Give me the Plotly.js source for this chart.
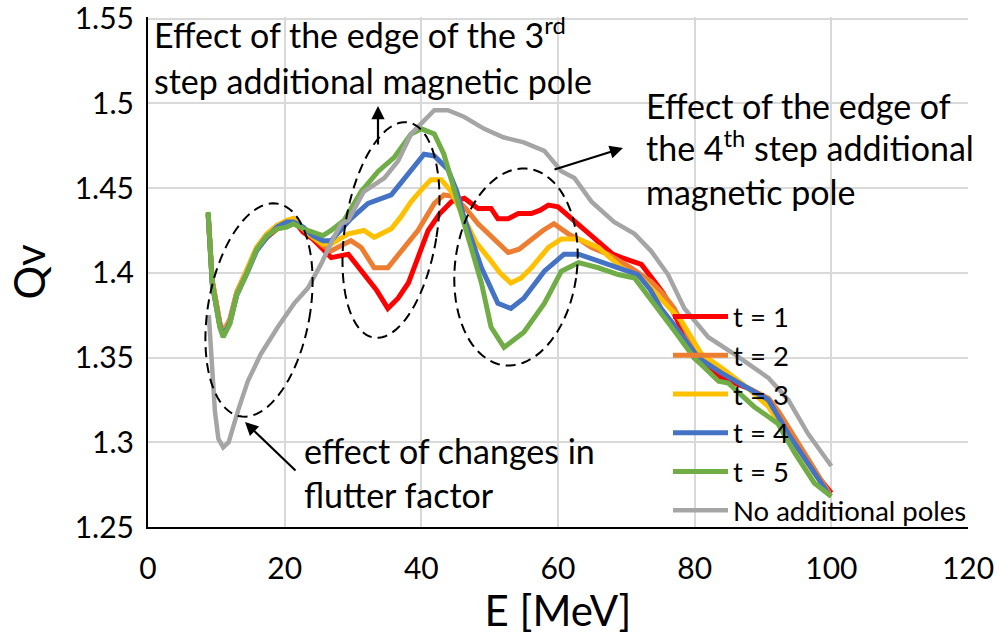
<!DOCTYPE html>
<html>
<head>
<meta charset="utf-8">
<script src="https://cdn.plot.ly/plotly-3.0.1.min.js"></script>
<style>html,body{margin:0;padding:0;background:#fff;}#chart{width:1000px;height:642px;}</style>
</head>
<body>
<div id="chart"></div>
<script>
// ---- data ----
const seriesNames = ["t = 1", "t = 2", "t = 3", "t = 4", "t = 5", "No additional poles"];

const e_t1 = [8.8, 9.4, 10.5, 11.0, 12.0, 13.0, 14.5, 15.9, 17.4, 18.9, 20.3, 21.3, 22.7, 24.1, 25.6, 26.8, 29.3, 31.6, 33.4, 35.1, 36.6, 38.1, 39.6, 41.0, 42.7, 44.4, 46.3, 48.3, 50.2, 51.2, 52.7, 54.2, 56.1, 57.4, 58.6, 60.0, 61.7, 63.4, 65.9, 68.0, 69.3, 70.7, 72.2, 74.1, 75.4, 76.6, 78.3, 79.9, 81.9, 83.9, 85.8, 87.8, 89.5, 91.2, 92.6, 94.1, 95.8, 97.5, 98.8, 100.0];
const q_t1 = [1.435, 1.395, 1.370, 1.364, 1.372, 1.388, 1.401, 1.414, 1.421, 1.426, 1.428, 1.431, 1.424, 1.420, 1.414, 1.409, 1.411, 1.399, 1.390, 1.379, 1.385, 1.394, 1.410, 1.425, 1.435, 1.442, 1.444, 1.438, 1.438, 1.432, 1.432, 1.435, 1.435, 1.437, 1.440, 1.439, 1.433, 1.427, 1.418, 1.411, 1.409, 1.407, 1.405, 1.395, 1.388, 1.379, 1.365, 1.350, 1.343, 1.338, 1.335, 1.332, 1.328, 1.323, 1.315, 1.305, 1.294, 1.282, 1.276, 1.270];

const e_t2 = [8.8, 9.4, 10.5, 11.0, 12.0, 13.0, 14.5, 15.9, 17.4, 18.9, 20.3, 21.3, 22.7, 24.1, 25.6, 26.8, 28.5, 29.7, 31.2, 33.1, 35.1, 37.0, 39.5, 41.9, 43.3, 44.8, 46.5, 48.3, 50.5, 52.7, 54.3, 56.1, 57.8, 59.4, 61.5, 63.4, 64.9, 67.3, 70.7, 73.6, 75.3, 77.0, 78.8, 80.5, 83.0, 85.4, 87.8, 90.8, 92.3, 93.7, 95.6, 97.5, 99.7];
const q_t2 = [1.435, 1.396, 1.371, 1.365, 1.373, 1.389, 1.402, 1.415, 1.423, 1.428, 1.430, 1.432, 1.426, 1.421, 1.416, 1.413, 1.417, 1.419, 1.415, 1.403, 1.403, 1.413, 1.425, 1.441, 1.446, 1.445, 1.438, 1.429, 1.420, 1.412, 1.414, 1.420, 1.425, 1.429, 1.423, 1.419, 1.415, 1.411, 1.403, 1.395, 1.388, 1.379, 1.365, 1.350, 1.344, 1.338, 1.332, 1.326, 1.318, 1.309, 1.297, 1.284, 1.270];

const e_t3 = [8.8, 9.4, 10.5, 11.0, 12.0, 13.0, 14.5, 15.9, 17.4, 18.9, 20.3, 21.3, 22.7, 24.1, 25.6, 26.8, 29.3, 31.6, 33.1, 35.6, 37.0, 38.5, 40.0, 41.4, 42.9, 44.4, 46.3, 48.0, 49.8, 51.5, 53.1, 54.6, 56.1, 58.6, 60.5, 63.0, 65.9, 69.3, 72.2, 75.1, 78.0, 79.5, 81.0, 83.9, 87.8, 90.8, 93.7, 95.6, 97.5, 99.7];
const q_t3 = [1.435, 1.394, 1.369, 1.364, 1.372, 1.388, 1.402, 1.415, 1.423, 1.428, 1.431, 1.432, 1.426, 1.421, 1.417, 1.417, 1.423, 1.425, 1.421, 1.426, 1.433, 1.442, 1.449, 1.455, 1.455, 1.448, 1.432, 1.418, 1.409, 1.400, 1.394, 1.397, 1.403, 1.415, 1.420, 1.420, 1.415, 1.403, 1.397, 1.385, 1.372, 1.362, 1.352, 1.344, 1.332, 1.321, 1.303, 1.293, 1.282, 1.269];

const e_t4 = [8.8, 9.4, 10.5, 11.0, 12.0, 13.0, 14.5, 15.9, 17.4, 18.9, 20.3, 21.3, 22.7, 24.1, 25.6, 26.8, 29.7, 32.2, 35.6, 38.1, 40.4, 41.9, 43.9, 45.2, 46.3, 48.8, 51.2, 53.1, 55.0, 58.0, 60.9, 63.0, 65.9, 69.7, 71.7, 73.5, 75.1, 77.6, 80.5, 83.9, 87.8, 90.8, 93.7, 95.6, 97.5, 99.7];
const q_t4 = [1.435, 1.393, 1.369, 1.363, 1.371, 1.387, 1.400, 1.413, 1.421, 1.427, 1.430, 1.430, 1.427, 1.422, 1.419, 1.419, 1.432, 1.441, 1.446, 1.458, 1.470, 1.469, 1.461, 1.448, 1.432, 1.403, 1.382, 1.379, 1.385, 1.401, 1.411, 1.411, 1.407, 1.401, 1.399, 1.390, 1.379, 1.366, 1.350, 1.341, 1.332, 1.325, 1.305, 1.294, 1.282, 1.269];

const e_t5 = [8.8, 9.4, 10.5, 11.0, 12.0, 13.0, 14.5, 15.9, 17.4, 18.9, 20.3, 21.3, 22.7, 24.1, 25.6, 26.8, 28.7, 31.2, 33.7, 36.0, 38.5, 40.0, 41.9, 43.3, 44.6, 46.3, 48.8, 50.2, 52.1, 55.0, 58.0, 60.5, 63.0, 65.9, 68.8, 71.2, 74.1, 77.0, 79.9, 83.5, 84.9, 86.8, 88.7, 92.2, 94.6, 97.5, 100.0];
const q_t5 = [1.436, 1.394, 1.368, 1.362, 1.370, 1.387, 1.400, 1.414, 1.422, 1.426, 1.427, 1.429, 1.426, 1.424, 1.422, 1.425, 1.431, 1.448, 1.460, 1.468, 1.482, 1.485, 1.482, 1.470, 1.452, 1.430, 1.394, 1.368, 1.356, 1.365, 1.382, 1.401, 1.406, 1.403, 1.399, 1.397, 1.382, 1.366, 1.350, 1.336, 1.335, 1.328, 1.321, 1.311, 1.294, 1.276, 1.268];

const e_none = [8.9, 9.3, 9.8, 10.3, 11.0, 11.8, 12.5, 13.2, 14.6, 16.5, 19.0, 21.4, 23.4, 25.3, 27.2, 28.3, 29.3, 31.6, 34.6, 36.6, 38.5, 40.0, 41.9, 43.9, 46.3, 49.2, 52.0, 55.0, 58.0, 60.5, 62.4, 64.9, 68.2, 71.2, 73.6, 76.1, 78.5, 82.0, 85.8, 90.8, 93.7, 96.6, 100.0];
const q_none = [1.375, 1.345, 1.318, 1.302, 1.297, 1.300, 1.310, 1.319, 1.336, 1.352, 1.368, 1.382, 1.391, 1.405, 1.421, 1.429, 1.431, 1.448, 1.456, 1.466, 1.482, 1.488, 1.496, 1.496, 1.492, 1.485, 1.480, 1.477, 1.472, 1.460, 1.456, 1.442, 1.430, 1.423, 1.413, 1.399, 1.379, 1.362, 1.352, 1.338, 1.325, 1.305, 1.286];

const xTickVals = [0, 20, 40, 60, 80, 100, 120];
const yTickVals = [1.25, 1.3, 1.35, 1.4, 1.45, 1.5, 1.55];
const yTickText = ["1.25", "1.3", "1.35", "1.4", "1.45", "1.5", "1.55"];

// ---- styling ----
const FONT = "Lato, 'Open Sans', sans-serif";
const colors = ["#FF0000", "#ED7D31", "#FFC000", "#4472C4", "#70AD47", "#A5A5A5"];
const widths = [5, 5, 5, 5, 5, 4.5];
const xs = [e_t1, e_t2, e_t3, e_t4, e_t5, e_none];
const ys = [q_t1, q_t2, q_t3, q_t4, q_t5, q_none];

const traces = xs.map((x, i) => ({
  type: "scatter", mode: "lines", x: x, y: ys[i], name: seriesNames[i],
  legendgroup: "g" + i,
  line: {color: colors[i], width: widths[i], shape: "linear"}
}));

// plot-area geometry (pixels)
const W = 1000, H = 642, ML = 148, MR = 32, MT = 17, MB = 115;
const PW = W - ML - MR, PH = H - MT - MB;
const X0 = 0, X1 = 120, Y0 = 1.25, Y1 = 1.551;
const pxToX = px => X0 + (px - ML) / PW * (X1 - X0);
const pyToY = py => Y0 + (H - MB - py) / PH * (Y1 - Y0);
const pxPaper = px => (px - ML) / PW;
const pyPaper = py => (H - MB - py) / PH;

function ellipsePath(cx, cy, a, b, phiDeg) {
  const phi = phiDeg * Math.PI / 180;
  const u = [Math.sin(phi), -Math.cos(phi)];   // major axis (up, tilted right)
  const v = [Math.cos(phi), Math.sin(phi)];    // minor axis
  let d = "";
  const n = 90;
  for (let k = 0; k <= n; k++) {
    const t = 2 * Math.PI * k / n;
    const px = cx + b * Math.sin(t) * u[0] + a * Math.cos(t) * v[0];
    const py = cy + b * Math.sin(t) * u[1] + a * Math.cos(t) * v[1];
    d += (k === 0 ? "M" : "L") + pxToX(px).toFixed(3) + "," + pyToY(py).toFixed(5) + " ";
  }
  return d + "Z";
}

const ellipses = [
  [259, 310, 51, 108, 10],
  [391, 230, 46, 109, 9],
  [516, 267, 61, 99, 7]
];
const shapes = ellipses.map(e => ({
  type: "path", xref: "x", yref: "y", path: ellipsePath(...e),
  line: {color: "#000", width: 2, dash: "10px,6px"}, layer: "above"
}));

const textLines = [
  ["Effect of the edge of the 3<sup>rd</sup>", 152, 33],
  ["step additional magnetic pole", 152, 80],
  ["Effect of the edge of", 644, 105],
  ["the 4<sup>th</sup> step additional", 644, 146],
  ["magnetic pole", 644, 191],
  ["effect of changes in", 302, 450],
  ["flutter factor", 302, 494]
];
const annotations = textLines.map(t => ({
  text: t[0], xref: "paper", yref: "paper", x: pxPaper(t[1]), y: pyPaper(t[2]),
  xanchor: "left", yanchor: "middle", showarrow: false,
  font: {family: FONT, size: 34, color: "#000"}
}));
const arrows = [
  [378, 106, 378, 146],
  [623, 148, 553, 170],
  [245, 422, 297, 472]
];
arrows.forEach(a => annotations.push({
  text: "", xref: "paper", yref: "paper", x: pxPaper(a[0]), y: pyPaper(a[1]),
  ax: a[2] - a[0], ay: a[3] - a[1], showarrow: true,
  arrowhead: 2, arrowsize: 1.2, arrowwidth: 2.2, arrowcolor: "#000"
}));

const layout = {
  width: W, height: H,
  margin: {l: ML, r: MR, t: MT, b: MB, pad: 0},
  paper_bgcolor: "#fff", plot_bgcolor: "#fff",
  font: {family: FONT, color: "#000"},
  showlegend: true,
  legend: {
    x: pxPaper(668), y: pyPaper(292), xanchor: "left", yanchor: "top",
    bgcolor: "rgba(0,0,0,0)", font: {family: FONT, size: 27.5, color: "#000"},
    traceorder: "grouped", tracegroupgap: 0, itemwidth: 55
  },
  xaxis: {
    range: [X0, X1], tickvals: xTickVals, showgrid: true, gridcolor: "#d9d9d9", gridwidth: 2,
    zeroline: false, showline: true, linecolor: "#000", linewidth: 2,
    ticks: "outside", ticklen: 14, tickcolor: "rgba(0,0,0,0)",
    ticklabeloverflow: "allow",
    tickfont: {family: FONT, size: 30, color: "#000"},
    title: {text: "E [MeV]", font: {family: FONT, size: 42, color: "#000"}, standoff: 6}
  },
  yaxis: {
    range: [Y0, Y1], tickvals: yTickVals, ticktext: yTickText, showgrid: true, gridcolor: "#d9d9d9", gridwidth: 2,
    zeroline: false, showline: true, linecolor: "#000", linewidth: 2,
    ticks: "outside", ticklen: 6, tickcolor: "rgba(0,0,0,0)",
    ticklabeloverflow: "allow",
    tickfont: {family: FONT, size: 30, color: "#000"},
    title: {text: "Qv", font: {family: FONT, size: 42, color: "#000"}, standoff: 16}
  },
  shapes: shapes,
  annotations: annotations
};

Plotly.newPlot("chart", traces, layout, {displayModeBar: false, staticPlot: true});
</script>
</body>
</html>
